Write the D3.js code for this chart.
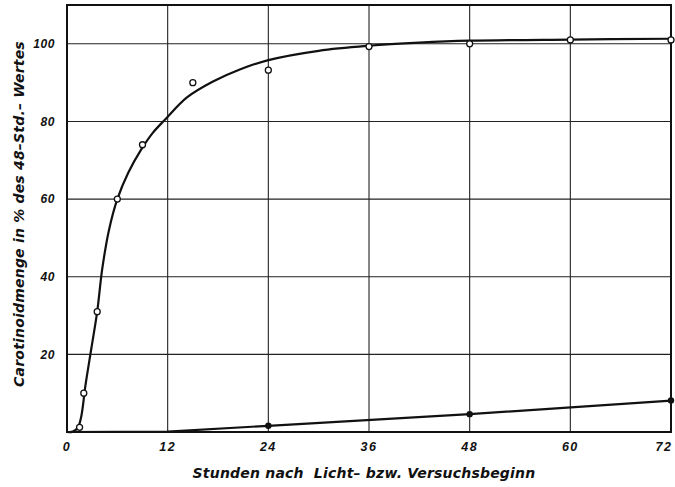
<!DOCTYPE html>
<html>
<head>
<meta charset="utf-8">
<script src="https://cdn.jsdelivr.net/npm/d3@7"></script>
<style>
  html, body { margin: 0; padding: 0; background: #fff; }
  svg { display: block; }
  text { font-family: "DejaVu Sans", sans-serif; font-style: italic; fill: #111; }
  text.tick { font-family: "Liberation Sans", sans-serif; font-weight: bold; }
</style>
</head>
<body>
<svg id="chart" width="675" height="487"></svg>
<script>
// Hours after start of illumination / experiment
const xTicks = [0, 12, 24, 36, 48, 60, 72];
const yTicks = [20, 40, 60, 80, 100];

// Measured carotenoid amounts in light (open circles), % of 48 h value
const lightHours  = [1.5, 2, 3.6, 6, 9, 15, 24, 36, 48, 60, 72];
const lightValues = [1.2, 10, 31, 60, 74, 90, 93.2, 99.3, 100, 101, 101];

// Smoothed curve drawn through the light measurements
const lightCurveHours  = [0, 0.7, 1.3, 1.7, 2.2, 2.9, 3.6, 4.2, 5, 6, 7.3, 8.8, 10.2, 11.7, 14.3, 17.4, 20.6, 24, 30, 36, 42, 48, 60, 72];
const lightCurveValues = [0, 0.1, 1.2, 4, 12, 21.5, 31, 42, 52, 60, 66.8, 72.6, 77, 80.5, 86.2, 90.3, 93.4, 95.8, 98.2, 99.5, 100.3, 100.8, 101.1, 101.3];

// Measured carotenoid amounts in darkness (filled circles)
const darkHours  = [24, 48, 72];
const darkValues = [1.6, 4.6, 8.1];

// Line through the dark measurements
const darkCurveHours  = [0, 12, 24, 48, 72];
const darkCurveValues = [0, 0.1, 1.6, 4.6, 8.1];

const xTitle = "Stunden nach  Licht\u2013 bzw. Versuchsbeginn";
const yTitle = "Carotinoidmenge in % des 48\u2013Std.\u2013 Wertes";

const svg = d3.select("#chart");
const plotLeft = 67, plotRight = 671, plotTop = 5, plotBottom = 432;

const x = d3.scaleLinear().domain([0, 72]).range([plotLeft, plotRight]);
const y = d3.scaleLinear().domain([0, 110]).range([plotBottom, plotTop]);

// Grid lines
const grid = svg.append("g").attr("stroke", "#222").attr("stroke-width", 1.1);
grid.selectAll("line.v").data(xTicks.slice(1, -1)).join("line")
  .attr("class", "v")
  .attr("x1", d => x(d)).attr("x2", d => x(d))
  .attr("y1", plotTop).attr("y2", plotBottom);
grid.selectAll("line.h").data(yTicks).join("line")
  .attr("class", "h")
  .attr("x1", plotLeft).attr("x2", plotRight)
  .attr("y1", d => y(d)).attr("y2", d => y(d));

// Frame
svg.append("rect")
  .attr("x", plotLeft).attr("y", plotTop)
  .attr("width", plotRight - plotLeft).attr("height", plotBottom - plotTop)
  .attr("fill", "none").attr("stroke", "#111").attr("stroke-width", 2);

// Curves
const smooth = d3.line().x(d => x(d[0])).y(d => y(d[1])).curve(d3.curveCatmullRom.alpha(0.5));
svg.append("path")
  .datum(d3.zip(lightCurveHours, lightCurveValues))
  .attr("d", smooth).attr("fill", "none").attr("stroke", "#111").attr("stroke-width", 2.2);
svg.append("path")
  .datum(d3.zip(darkCurveHours, darkCurveValues))
  .attr("d", d3.line().x(d => x(d[0])).y(d => y(d[1])))
  .attr("fill", "none").attr("stroke", "#111").attr("stroke-width", 2.2);

// Points
svg.selectAll("circle.light").data(d3.zip(lightHours, lightValues)).join("circle")
  .attr("class", "light")
  .attr("cx", d => x(d[0])).attr("cy", d => y(d[1])).attr("r", 3)
  .attr("fill", "#fff").attr("stroke", "#111").attr("stroke-width", 1.3);
svg.selectAll("circle.dark").data(d3.zip(darkHours, darkValues)).join("circle")
  .attr("class", "dark")
  .attr("cx", d => x(d[0])).attr("cy", d => y(d[1])).attr("r", 3.2)
  .attr("fill", "#111");

// Tick labels
svg.selectAll("text.xt").data(xTicks).join("text")
  .attr("class", "xt tick")
  .attr("x", d => Math.min(x(d), 664)).attr("y", 451)
  .attr("text-anchor", "middle").attr("font-size", 12.5).attr("letter-spacing", 1.5)
  .text(d => d);
svg.selectAll("text.yt").data(yTicks).join("text")
  .attr("class", "yt tick")
  .attr("x", 55).attr("y", d => y(d)).attr("dy", "0.35em")
  .attr("text-anchor", "end").attr("font-size", 12).attr("letter-spacing", 0.6)
  .text(d => d);

// Axis titles
svg.append("text")
  .attr("x", 364).attr("y", 478)
  .attr("text-anchor", "middle").attr("font-size", 14).attr("font-weight", "bold")
  .attr("letter-spacing", 0.2)
  .style("white-space", "pre")
  .text(xTitle);
svg.append("text")
  .attr("transform", "translate(24,214) rotate(-90)")
  .attr("text-anchor", "middle").attr("font-size", 14).attr("font-weight", "bold")
  .attr("letter-spacing", 0.2)
  .text(yTitle);
</script>
</body>
</html>
